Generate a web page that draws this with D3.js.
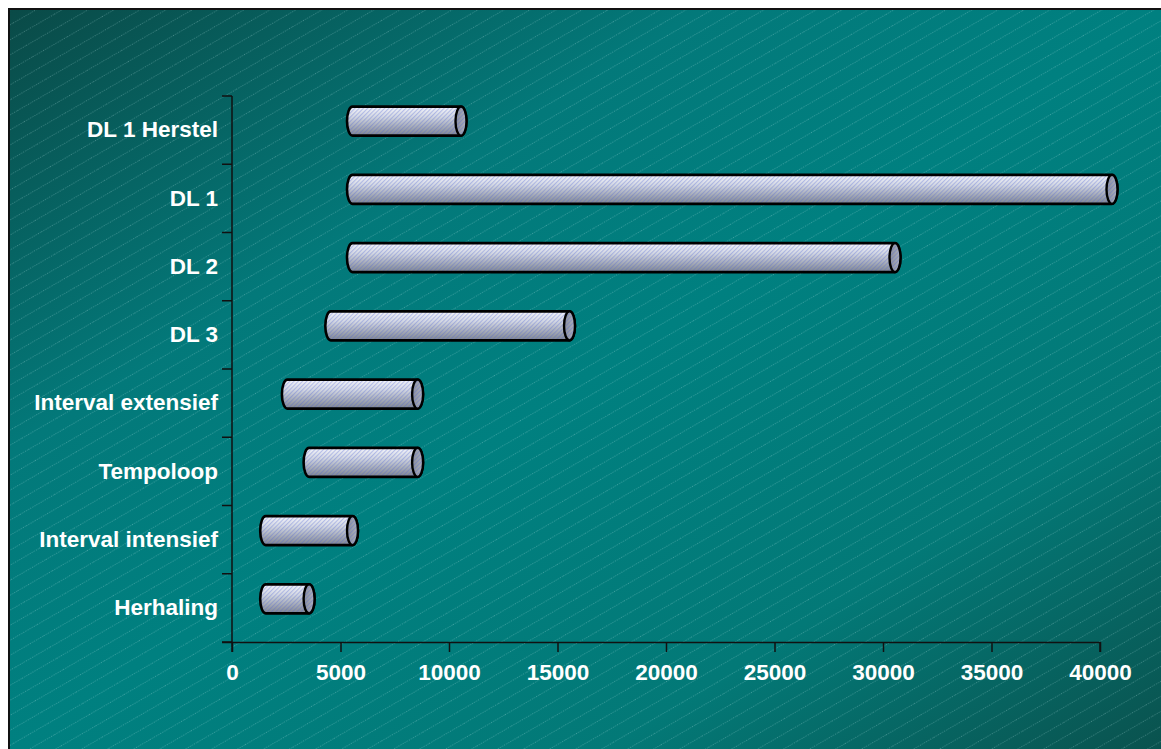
<!DOCTYPE html>
<html>
<head>
<meta charset="utf-8">
<script src="https://cdn.jsdelivr.net/npm/d3@7"></script>
<style>
  html, body { margin: 0; padding: 0; background: #ffffff; }
  svg { display: block; }
</style>
</head>
<body>
<svg id="chart" width="1161" height="749"></svg>
<script>
// ---- data ----
const categories = ["Herhaling", "Interval intensief", "Tempoloop", "Interval extensief", "DL 3", "DL 2", "DL 1", "DL 1 Herstel"];
const startValues = [1000, 1000, 3000, 2000, 4000, 5000, 5000, 5000];
const endValues   = [3000, 5000, 8000, 8000, 15000, 30000, 40000, 10000];
const xTickValues = [0, 5000, 10000, 15000, 20000, 25000, 30000, 35000, 40000];

// ---- layout ----
const W = 1161, H = 749;
const plot = { left: 232, right: 1100, top: 96, bottom: 642 };
const depth = { dx: 12, dy: -9 };
const barH = 29, capRx = 5.5;
const font = "'Liberation Sans', Arial, sans-serif";

const svg = d3.select("#chart");
const defs = svg.append("defs");

// background gradient (dark corners top-left / bottom-right, bright along the other diagonal)
const bg = defs.append("linearGradient").attr("id", "bgGrad")
  .attr("gradientUnits", "userSpaceOnUse")
  .attr("x1", 9).attr("y1", 9).attr("x2", 682).attr("y2", 1057);
bg.append("stop").attr("offset", 0).attr("stop-color", "#0a4a47");
bg.append("stop").attr("offset", 0.3).attr("stop-color", "#03797a");
bg.append("stop").attr("offset", 0.5).attr("stop-color", "#008080");
bg.append("stop").attr("offset", 0.76).attr("stop-color", "#037977");
bg.append("stop").attr("offset", 1).attr("stop-color", "#0a524e");

// background hatch
const hatch = defs.append("pattern").attr("id", "hatch")
  .attr("patternUnits", "userSpaceOnUse").attr("width", 40).attr("height", 13)
  .attr("patternTransform", "rotate(-30)");
hatch.append("line").attr("x1", 0).attr("x2", 40).attr("y1", 0.5).attr("y2", 0.5)
  .attr("stroke", "rgba(200,240,240,0.33)").attr("stroke-width", 0.9)
  .attr("stroke-dasharray", "1,1.4");

// bar body gradient
const bodyGrad = defs.append("linearGradient").attr("id", "bodyGrad")
  .attr("x1", 0).attr("y1", 0).attr("x2", 0).attr("y2", 1);
bodyGrad.append("stop").attr("offset", 0).attr("stop-color", "#f6f7fb");
bodyGrad.append("stop").attr("offset", 0.35).attr("stop-color", "#d4d8e2");
bodyGrad.append("stop").attr("offset", 1).attr("stop-color", "#7e848f");

const capGrad = defs.append("linearGradient").attr("id", "capGrad")
  .attr("x1", 0).attr("y1", 0).attr("x2", 1).attr("y2", 0);
capGrad.append("stop").attr("offset", 0).attr("stop-color", "#8a8e9a");
capGrad.append("stop").attr("offset", 1).attr("stop-color", "#b0b4be");

// fine stripe texture
const stripe = defs.append("pattern").attr("id", "stripe")
  .attr("patternUnits", "userSpaceOnUse").attr("width", 3).attr("height", 3)
  .attr("patternTransform", "rotate(-45)");
stripe.append("rect").attr("x", 0).attr("y", 0).attr("width", 3).attr("height", 1.1)
  .attr("fill", "rgba(80,100,215,0.34)");

// ---- background ----
svg.append("rect").attr("x", 9).attr("y", 9).attr("width", W).attr("height", H)
  .attr("fill", "url(#bgGrad)");
svg.append("rect").attr("x", 9).attr("y", 9).attr("width", W).attr("height", H)
  .attr("fill", "url(#hatch)");
svg.append("rect").attr("x", 9).attr("y", 9).attr("width", W + 10).attr("height", H + 10)
  .attr("fill", "none").attr("stroke", "#111").attr("stroke-width", 2);

// ---- scales ----
const x = d3.scaleLinear().domain([0, 40000]).range([plot.left, plot.right]);
const y = d3.scaleBand().domain(categories.slice().reverse()).range([plot.top, plot.bottom]).padding(0);

// ---- axes ----
const xAxis = d3.axisBottom(x).tickValues(xTickValues).tickSize(10).tickPadding(12).tickFormat(d3.format("d"));
const gx = svg.append("g").attr("transform", `translate(0,${plot.bottom})`).call(xAxis);
gx.select(".domain").attr("d", `M${plot.left - 10},0.5H${plot.right}V10`);

const yAxis = d3.axisLeft(y).tickSize(0).tickPadding(14);
const gy = svg.append("g").attr("transform", `translate(${plot.left},0)`).call(yAxis);
gy.select(".domain").attr("d", `M0,${plot.top}V${plot.bottom + 10}`);
// boundary ticks on y axis
const bounds = y.domain().map(c => y(c)).concat([plot.bottom]);
gy.selectAll(".bound").data(bounds).join("line").attr("class", "bound")
  .attr("x1", -10).attr("x2", 0).attr("y1", d => d).attr("y2", d => d)
  .attr("stroke", "#111").attr("stroke-width", 1.5);

[gx, gy].forEach(g => {
  g.selectAll(".domain").attr("stroke", "#111").attr("stroke-width", 1.5).attr("fill", "none");
  g.selectAll(".tick line").attr("stroke", "#111").attr("stroke-width", 1.5);
  g.selectAll(".tick text").attr("fill", "#ffffff").attr("font-family", font)
    .attr("font-weight", "bold").attr("font-size", "22.5px");
});
gy.selectAll(".tick text").attr("x", -14);

// ---- bars ----
const bars = svg.append("g");
categories.forEach((c, i) => {
  const xs = x(startValues[i]) + depth.dx;
  const xe = x(endValues[i]) + depth.dx;
  const cy = y(c) + y.bandwidth() / 2 + depth.dy;
  const top = cy - barH / 2, bot = cy + barH / 2, ry = barH / 2;
  const d = `M${xs},${top}L${xe},${top}A${capRx},${ry} 0 0 1 ${xe},${bot}L${xs},${bot}A${capRx},${ry} 0 0 1 ${xs},${top}Z`;
  const g = bars.append("g");
  g.append("path").attr("d", d).attr("fill", "url(#bodyGrad)");
  g.append("path").attr("d", d).attr("fill", "url(#stripe)");
  g.append("path").attr("d", d).attr("fill", "none").attr("stroke", "#000").attr("stroke-width", 2.6);
  g.append("ellipse").attr("cx", xe).attr("cy", cy).attr("rx", capRx).attr("ry", ry)
    .attr("fill", "url(#capGrad)");
  g.append("ellipse").attr("cx", xe).attr("cy", cy).attr("rx", capRx).attr("ry", ry)
    .attr("fill", "url(#stripe)").attr("stroke", "#000").attr("stroke-width", 2.4);
});
</script>
</body>
</html>
